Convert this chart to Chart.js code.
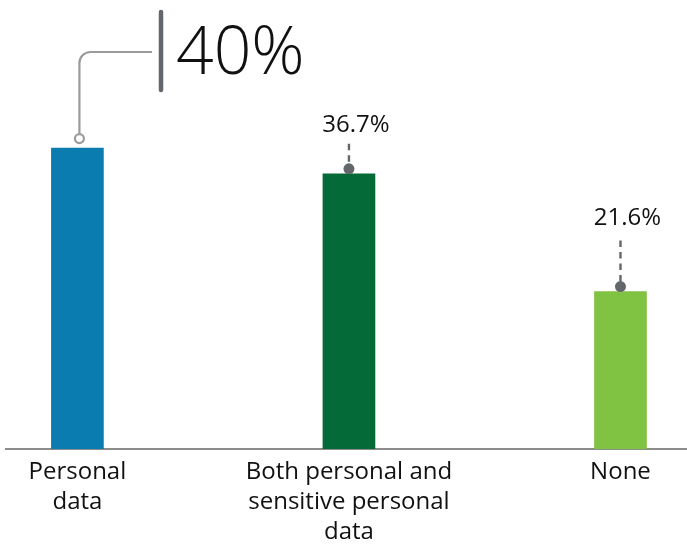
<!DOCTYPE html>
<html>
<head>
<meta charset="utf-8">
<script src="https://cdn.jsdelivr.net/npm/chart.js@4"></script>
<style>
  html, body { margin: 0; padding: 0; background: #fff; }
  #wrap { width: 687px; height: 544px; }
</style>
</head>
<body>
<div id="wrap"><canvas id="dataChart" width="687" height="544"></canvas></div>
<script>
// Data
const categories = [['Personal', 'data'], ['Both personal and', 'sensitive personal', 'data'], ['None']];
const values = [40, 36.7, 21.6];
const valueLabels = ['40%', '36.7%', '21.6%'];
const barColors = ['#0B7CB0', '#046A38', '#80C242'];

// Draws the value callouts above each bar
const calloutPlugin = {
    id: 'callouts',
    afterDatasetsDraw(chart) {
        const ctx = chart.ctx;
        const bars = chart.getDatasetMeta(0).data;
        ctx.save();

        // first bar: big label with elbow connector
        const b0 = bars[0];
        const cx = b0.x + 2, cy = b0.y - 9.5;
        ctx.strokeStyle = '#9a9b9d';
        ctx.lineWidth = 2.2;
        ctx.beginPath();
        ctx.arc(cx, cy, 4.5, 0, Math.PI * 2);
        ctx.stroke();
        ctx.beginPath();
        ctx.moveTo(cx, cy - 4.5);
        ctx.lineTo(cx, 63);
        ctx.arcTo(cx, 52, cx + 11, 52, 11);
        ctx.lineTo(152, 52);
        ctx.stroke();
        ctx.strokeStyle = '#63666a';
        ctx.lineWidth = 4.5;
        ctx.lineCap = 'round';
        ctx.beginPath();
        ctx.moveTo(161, 12);
        ctx.lineTo(161, 90);
        ctx.stroke();
        ctx.fillStyle = '#111';
        ctx.font = '300 66px "Open Sans"';
        ctx.textAlign = 'left';
        ctx.textBaseline = 'alphabetic';
        ctx.fillText(valueLabels[0], 176, 74);

        // other bars: dashed leader with dot
        const lead = [0, 30, 51];
        const textGap = [0, 42, 67];
        for (let i = 1; i < bars.length; i++) {
            const b = bars[i];
            const dotY = b.y - 5;
            ctx.strokeStyle = '#63666a';
            ctx.lineWidth = 2.4;
            ctx.lineCap = 'butt';
            ctx.setLineDash([6.5, 5]);
            ctx.beginPath();
            ctx.moveTo(b.x, b.y - lead[i]);
            ctx.lineTo(b.x, dotY);
            ctx.stroke();
            ctx.setLineDash([]);
            ctx.fillStyle = '#63666a';
            ctx.beginPath();
            ctx.arc(b.x, dotY, 5.5, 0, Math.PI * 2);
            ctx.fill();
            ctx.fillStyle = '#111';
            ctx.font = '24px "Open Sans"';
            ctx.textAlign = 'center';
            ctx.fillText(valueLabels[i], b.x + 7, b.y - textGap[i]);
        }
        ctx.restore();
    }
};

const ctx = document.getElementById('dataChart').getContext('2d');
new Chart(ctx, {
    type: 'bar',
    data: {
        datasets: [{
            data: values.map((v, i) => ({ x: i, y: v })),
            backgroundColor: barColors,
            barThickness: 52
        }]
    },
    options: {
        responsive: false,
        animation: false,
        layout: { padding: { left: 6, right: 0, top: 0, bottom: 0 } },
        plugins: {
            legend: { display: false },
            tooltip: { enabled: false }
        },
        scales: {
            x: {
                type: 'linear',
                offset: false,
                min: -0.263,
                max: 2.245,
                grid: { display: false, offset: false },
                border: { display: true, color: '#8c8c8c', width: 2 },
                afterBuildTicks: (scale) => {
                    scale.ticks = categories.map((c, i) => ({ value: i }));
                },
                afterFit: (scale) => { scale.height = 95; },
                ticks: {
                    autoSkip: false,
                    maxRotation: 0,
                    padding: 0,
                    color: '#111',
                    font: { family: 'Open Sans', size: 24, lineHeight: 1.25 },
                    callback: (value) => categories[value]
                }
            },
            y: {
                display: false,
                min: 1.4,
                max: 59
            }
        }
    },
    plugins: [calloutPlugin]
});
</script>
</body>
</html>
